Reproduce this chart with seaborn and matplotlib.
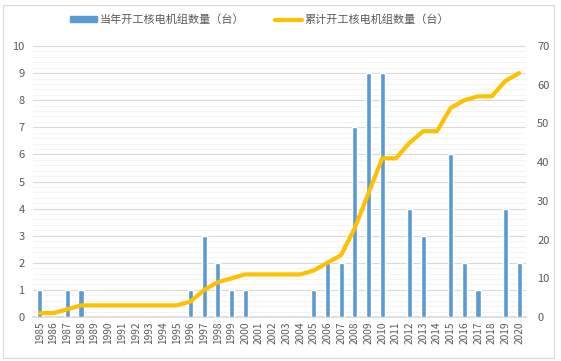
import matplotlib
matplotlib.use("Agg")
import matplotlib.pyplot as plt
import seaborn as sns
import pandas as pd
import numpy as np
from matplotlib.patches import Rectangle
from matplotlib.lines import Line2D

years = [str(y) for y in range(1985, 2021)]
annual = [1, 0, 1, 1, 0, 0, 0, 0, 0, 0, 0, 1, 3, 2, 1, 1, 0, 0, 0, 0,
          1, 2, 2, 7, 9, 9, 0, 4, 3, 0, 6, 2, 1, 0, 4, 2]
cumulative = [1, 1, 2, 3, 3, 3, 3, 3, 3, 3, 3, 4, 7, 9, 10, 11, 11, 11, 11, 11,
              12, 14, 16, 23, 32, 41, 41, 45, 48, 48, 54, 56, 57, 57, 61, 63]
label_bar = "当年开工核电机组数量（台）"
label_line = "累计开工核电机组数量（台）"

df = pd.DataFrame({"year": years, "annual": annual, "cum": cumulative})

sns.set_theme(style="white")
plt.rcParams['font.family'] = ['Noto Sans CJK SC', 'DejaVu Sans']

bar_c = "#5B9BD5"
line_c = "#FFC000"
txt_c = "#595959"

fig = plt.figure(figsize=(5.61, 3.61), dpi=100)
ax = fig.add_axes([33/561, 1 - 317/361, (526-33)/561, (317-46)/361])

sns.barplot(data=df, x="year", y="annual", color=bar_c, width=0.38,
            saturation=1, ax=ax, zorder=3)
ax.set_ylim(0, 10)
ax.set_xlim(-0.5, len(years) - 0.5)
ax.set_yticks(range(0, 11))
ax.set_yticks(np.arange(0, 10.01, 0.2), minor=True)
ax.grid(axis="y", which="major", color="#D9D9D9", lw=0.8, zorder=0)
ax.grid(axis="y", which="minor", color="#F2F2F2", lw=0.6, zorder=0)
ax.set_axisbelow(True)
ax.set_xlabel("")
ax.set_ylabel("")
for s in ["top", "right", "left"]:
    ax.spines[s].set_visible(False)
ax.spines["bottom"].set_color("#D9D9D9")
ax.tick_params(axis="y", which="both", length=0, labelsize=8, labelcolor=txt_c, pad=6)
ax.set_xticks(np.arange(len(years)))
ax.set_xticklabels(years, rotation=90, fontsize=7.3, color=txt_c)
ax.tick_params(axis="x", length=0, pad=3)
ax.set_xticks(np.arange(-0.5, len(years), 1), minor=True)
ax.tick_params(axis="x", which="minor", length=4, color="#D9D9D9", width=0.8, direction="out")

ax2 = ax.twinx()
sns.lineplot(data=df, x="year", y="cum", color=line_c, lw=3, ax=ax2,
             sort=False, zorder=4)
ax2.set_ylim(0, 70)
ax2.set_yticks(range(0, 71, 10))
ax2.set_ylabel("")
for s in ["top", "right", "left", "bottom"]:
    ax2.spines[s].set_visible(False)
ax2.tick_params(axis="y", length=0, labelsize=8, labelcolor=txt_c, pad=8)
ax2.grid(False)

handles = [Rectangle((0, 0), 1, 1, color=bar_c),
           Line2D([0], [0], color=line_c, lw=3)]
fig.legend(handles, [label_bar, label_line], loc="center", bbox_to_anchor=(0.463, 1 - 20/361),
           ncol=2, frameon=False, fontsize=8, labelcolor=txt_c,
           handlelength=2.4, handleheight=0.45, columnspacing=2.8, handletextpad=0.25)

fig.patches.append(Rectangle((3/561, 3/361), 551/561, 353/361, transform=fig.transFigure,
                             fill=False, edgecolor="#D9D9D9", lw=0.8))

fig.savefig("out.png", dpi=100)
